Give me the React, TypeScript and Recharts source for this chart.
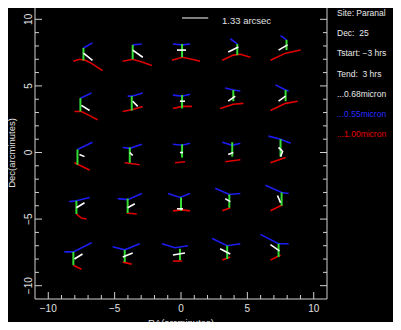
import { ComposedChart, Scatter, XAxis, YAxis } from 'recharts';

type Pt = [number, number];

// tick positions (arcminutes), labels only on multiples of 5
const X_TICKS = [-10, -9, -8, -7, -6, -5, -4, -3, -2, -1, 0, 1, 2, 3, 4, 5, 6, 7, 8, 9, 10];
const Y_TICKS = [-10, -9, -8, -7, -6, -5, -4, -3, -2, -1, 0, 1, 2, 3, 4, 5, 6, 7, 8, 9, 10];

// green bars: [ra, dec top, dec bottom]
const GREEN_BARS: [number, number, number][] = [
  [-7.35, 7.85, 6.92], [-3.64, 8.08, 7.0], [0.08, 8.15, 7.15], [4.24, 8.15, 7.31], [7.95, 8.46, 7.69],
  [-7.58, 4.08, 3.08], [-3.71, 4.23, 3.15], [0.08, 4.31, 3.31], [3.94, 4.69, 3.85], [7.88, 4.69, 3.85],
  [-7.8, 0.23, -0.92], [-3.86, 0.38, -0.77], [0.08, 0.62, -0.38], [3.86, 0.77, -0.31], [7.5, 1.0, -0.31],
  [-7.88, -3.62, -4.62], [-4.02, -3.46, -4.54], [0, -3.38, -4.38], [3.64, -3.15, -4.15], [7.58, -3.0, -4.0],
  [-8.11, -7.46, -8.46], [-4.24, -7.31, -8.23], [-0.08, -7.23, -8.08], [3.48, -7.0, -8.0], [7.35, -6.85, -7.85],
];

// 0.55 micron tracks
const BLUE_TRACKS: Pt[][] = [
  [[-7.35, 7.85], [-6.67, 8.23]],
  [[-3.64, 8.08], [-2.95, 8.15]],
  [[-0.61, 8.15], [0.08, 8.08], [0.68, 8.15]],
  [[3.71, 8.54], [4.24, 8.15]],
  [[7.5, 8.77], [7.95, 8.46]],
  [[-7.58, 4.08], [-6.74, 4.46]],
  [[-4.02, 4.23], [-3.71, 4.23], [-2.88, 4.46]],
  [[-0.61, 4.31], [0.08, 4.23], [0.68, 4.38]],
  [[3.33, 4.85], [3.94, 4.69], [4.47, 4.62]],
  [[7.12, 5.08], [7.88, 4.69], [8.11, 4.62]],
  [[-7.8, 0.23], [-6.67, 0.77]],
  [[-4.39, 0.38], [-3.86, 0.31], [-2.95, 0.62]],
  [[-0.61, 0.62], [0.08, 0.54], [0.68, 0.69]],
  [[3.11, 0.77], [3.86, 0.54], [4.47, 0.69]],
  [[6.59, 1.23], [7.5, 1.0], [8.26, 0.69]],
  [[-8.41, -3.69], [-7.88, -3.62], [-6.89, -3.38]],
  [[-4.77, -3.46], [-4.02, -3.54], [-2.95, -3.08]],
  [[-0.98, -3.08], [-0.08, -3.38], [0.68, -3.08]],
  [[2.58, -2.69], [3.64, -3.15], [4.47, -3.08]],
  [[6.36, -2.46], [7.58, -3.0], [8.11, -3.08]],
  [[-8.79, -7.46], [-8.11, -7.46], [-6.74, -6.77]],
  [[-5.15, -7.08], [-4.24, -7.31], [-3.11, -6.85]],
  [[-1.44, -6.85], [-0.45, -7.15], [0.53, -7.0]],
  [[2.35, -6.46], [3.48, -7.0], [4.47, -6.85]],
  [[5.98, -6.15], [7.35, -6.85], [8.11, -6.85]],
];

// 0.68 micron tracks
const WHITE_TRACKS: Pt[][] = [
  [[-7.35, 7.46], [-6.67, 6.92]],
  [[-3.64, 7.69], [-2.88, 7.15]],
  [[-0.3, 7.69], [0.38, 7.69]],
  [[3.56, 7.54], [4.32, 7.92]],
  [[7.35, 7.69], [8.03, 8.08]],
  [[-7.5, 3.54], [-6.89, 3.15]],
  [[-3.64, 3.85], [-3.26, 3.46]],
  [[-0.08, 3.85], [0.3, 3.85]],
  [[3.56, 3.85], [4.09, 4.23]],
  [[7.35, 3.85], [7.88, 4.23]],
  [[-7.65, -0.15], [-7.27, -0.31]],
  [[-3.86, 0], [-3.64, -0.23]],
  [[-0.08, 0], [0.15, 0]],
  [[3.56, -0.15], [3.94, 0]],
  [[7.35, 0.38], [7.65, 0.08], [7.5, -0.31]],
  [[-7.88, -4.15], [-7.27, -3.77]],
  [[-4.02, -4.15], [-3.48, -3.85]],
  [[-0.3, -4.23], [0.15, -4.23]],
  [[3.33, -3.46], [3.71, -3.69]],
  [[7.27, -3.23], [7.5, -3.77]],
  [[-8.03, -8.0], [-7.42, -7.62]],
  [[-4.39, -7.85], [-3.64, -7.54]],
  [[-0.61, -7.69], [0.3, -7.54]],
  [[2.95, -7.23], [3.71, -7.62]],
  [[6.74, -6.92], [7.42, -7.38]],
];

// 1.00 micron tracks
const RED_TRACKS: Pt[][] = [
  [[-8.11, 6.85], [-7.65, 7.0], [-7.2, 6.92], [-6.74, 6.69], [-5.91, 6.15]],
  [[-4.39, 6.85], [-3.64, 7.0], [-2.88, 6.77], [-2.2, 6.54]],
  [[-0.68, 6.92], [0.08, 7.15], [0.83, 7.0], [1.44, 6.85]],
  [[3.11, 6.92], [3.94, 7.31], [4.47, 7.38], [5.23, 7.15]],
  [[6.74, 6.92], [7.88, 7.46], [9.02, 7.69]],
  [[-8.03, 3.08], [-7.5, 3.08], [-6.89, 2.77], [-6.29, 2.46]],
  [[-4.39, 3.08], [-3.64, 3.23], [-2.88, 3.46]],
  [[-0.61, 3.31], [0.08, 3.46], [0.83, 3.46]],
  [[2.95, 3.31], [3.94, 3.62], [4.7, 3.69]],
  [[6.74, 3.15], [7.88, 3.69], [8.79, 3.85]],
  [[-8.03, -0.77], [-6.89, -1.31]],
  [[-4.24, -0.77], [-3.11, -0.92]],
  [[-0.45, -0.77], [0.3, -0.69]],
  [[3.33, -0.69], [4.47, -0.54]],
  [[6.74, -0.77], [7.88, -0.38]],
  [[-7.88, -4.62], [-7.5, -4.92], [-7.12, -5.0]],
  [[-4.09, -4.54], [-3.33, -4.62]],
  [[-0.61, -4.38], [0.08, -4.31], [0.68, -4.38]],
  [[3.11, -4.38], [3.71, -4.15]],
  [[6.74, -4.38], [7.65, -3.92]],
  [[-8.11, -8.46], [-7.5, -8.77]],
  [[-4.39, -8.23], [-3.71, -8.38]],
  [[-0.61, -8.15], [0.08, -8.15]],
  [[3.11, -8.08], [3.71, -7.85]],
  [[6.74, -8.08], [7.5, -7.69]],
];

const SCALE_BAR: Pt[] = [[0.08, 10.1], [2.05, 10.1]];
const SCALE_LABEL = '1.33 arcsec';

const LEGEND_TEXT = ['Site: Paranal', 'Dec:  25', 'Tstart: \u22123 hrs', 'Tend:  3 hrs', '...0.68micron', '...0.55micron', '...1.00micron'];
const LEGEND_COLORS = ['#e8e8e8', '#e8e8e8', '#e8e8e8', '#e8e8e8', '#e8e8e8', '#2a2aff', '#e00000'];

const AXIS = '#d0d0d0';
const TEXT = '#e0e0e0';
const FONT = '"Liberation Sans", Arial, sans-serif';
const BLUE = '#1c1cf0';
const RED = '#e00000';
const GREEN = '#33dd33';
const WHITE = '#ffffff';

const toPoints = (track: Pt[]) => track.map(([x, y]) => ({ x, y }));
const fmt = (v: number) => (v < 0 ? `\u2212${-v}` : `${v}`);
const noDot = () => null;

const isMajor = (v: number) => v % 5 === 0;

function BottomTick(props: any) {
  const { x, y, payload } = props;
  const major = isMajor(payload.value);
  return (
    <g>
      <line x1={x} y1={y} x2={x} y2={y - (major ? 7 : 4)} stroke={AXIS} />
      {major && (
        <text x={x} y={y + 13} textAnchor="middle" fill={TEXT} fontSize={10} fontFamily={FONT}>
          {fmt(payload.value)}
        </text>
      )}
    </g>
  );
}

function TopTick(props: any) {
  const { x, y, payload } = props;
  const major = isMajor(payload.value);
  return <line x1={x} y1={y} x2={x} y2={y + (major ? 7 : 4)} stroke={AXIS} />;
}

function LeftTick(props: any) {
  const { x, y, payload } = props;
  const major = isMajor(payload.value);
  const tx = x - 3;
  return (
    <g>
      <line x1={x} y1={y} x2={x + (major ? 7 : 4)} y2={y} stroke={AXIS} />
      {major && (
        <text x={tx} y={y} transform={`rotate(-90 ${tx} ${y})`} textAnchor="middle" fill={TEXT} fontSize={10} fontFamily={FONT}>
          {fmt(payload.value)}
        </text>
      )}
    </g>
  );
}

function RightTick(props: any) {
  const { x, y, payload } = props;
  const major = isMajor(payload.value);
  return <line x1={x} y1={y} x2={x - (major ? 7 : 4)} y2={y} stroke={AXIS} />;
}

export default function App() {
  return (
    <div style={{ position: 'relative', width: 401, height: 330, margin: -8, background: '#ffffff', overflow: 'hidden' }}>
      <div style={{ position: 'absolute', left: 7, top: 5, right: 0, bottom: 0, background: '#000000' }} />
      <div style={{ position: 'absolute', left: 0, top: 0 }}>
        <ComposedChart width={401} height={330} margin={{ top: 5, right: 73, bottom: 30, left: 34 }}>
          <XAxis
            dataKey="x"
            type="number"
            domain={[-11, 11]}
            allowDataOverflow
            ticks={X_TICKS}
            interval={0}
            height={1}
            tickSize={0}
            tickMargin={0}
            tickLine={false}
            axisLine={{ stroke: AXIS }}
            tick={(p: any) => <BottomTick {...p} />}
          />
          <XAxis
            xAxisId="top"
            orientation="top"
            type="number"
            domain={[-11, 11]}
            allowDataOverflow
            ticks={X_TICKS}
            interval={0}
            height={1}
            tickSize={0}
            tickMargin={0}
            tickLine={false}
            axisLine={{ stroke: AXIS }}
            tick={(p: any) => <TopTick {...p} />}
          />
          <YAxis
            dataKey="y"
            type="number"
            domain={[-11, 11]}
            allowDataOverflow
            ticks={Y_TICKS}
            interval={0}
            width={1}
            tickSize={0}
            tickMargin={0}
            tickLine={false}
            axisLine={{ stroke: AXIS }}
            tick={(p: any) => <LeftTick {...p} />}
          />
          <YAxis
            yAxisId="right"
            orientation="right"
            type="number"
            domain={[-11, 11]}
            allowDataOverflow
            ticks={Y_TICKS}
            interval={0}
            width={1}
            tickSize={0}
            tickMargin={0}
            tickLine={false}
            axisLine={{ stroke: AXIS }}
            tick={(p: any) => <RightTick {...p} />}
          />
          {RED_TRACKS.map((t, i) => (
            <Scatter key={`r${i}`} data={toPoints(t)} line={{ stroke: RED, strokeWidth: 1.6 }} shape={noDot} isAnimationActive={false} />
          ))}
          {BLUE_TRACKS.map((t, i) => (
            <Scatter key={`b${i}`} data={toPoints(t)} line={{ stroke: BLUE, strokeWidth: 1.6 }} shape={noDot} isAnimationActive={false} />
          ))}
          {GREEN_BARS.map(([x, top, bottom], i) => (
            <Scatter
              key={`g${i}`}
              data={[{ x, y: top }, { x, y: bottom }]}
              line={{ stroke: GREEN, strokeWidth: 2 }}
              shape={noDot}
              isAnimationActive={false}
            />
          ))}
          {WHITE_TRACKS.map((t, i) => (
            <Scatter key={`w${i}`} data={toPoints(t)} line={{ stroke: WHITE, strokeWidth: 1.6 }} shape={noDot} isAnimationActive={false} />
          ))}
          <Scatter data={toPoints(SCALE_BAR)} line={{ stroke: WHITE, strokeWidth: 1 }} shape={noDot} isAnimationActive={false} />
        </ComposedChart>
      </div>
      <svg width={401} height={330} style={{ position: 'absolute', left: 0, top: 0, pointerEvents: 'none' }}>
        <text x={222} y={24} fill={TEXT} fontSize={9.5} fontFamily={FONT}>
          {SCALE_LABEL}
        </text>
        {LEGEND_TEXT.map((t, i) => (
          <text key={t} x={337} y={16 + i * 20.2} fill={LEGEND_COLORS[i]} fontSize={8.5} fontFamily={FONT} style={{ whiteSpace: 'pre' }}>
            {t}
          </text>
        ))}
        <text x={181} y={326} textAnchor="middle" fill={TEXT} fontSize={9.5} fontFamily={FONT}>
          RA(arcminutes)
        </text>
        <text x={15} y={153} transform="rotate(-90 15 153)" textAnchor="middle" fill={TEXT} fontSize={9.5} fontFamily={FONT}>
          Dec(arcminutes)
        </text>
      </svg>
    </div>
  );
}
